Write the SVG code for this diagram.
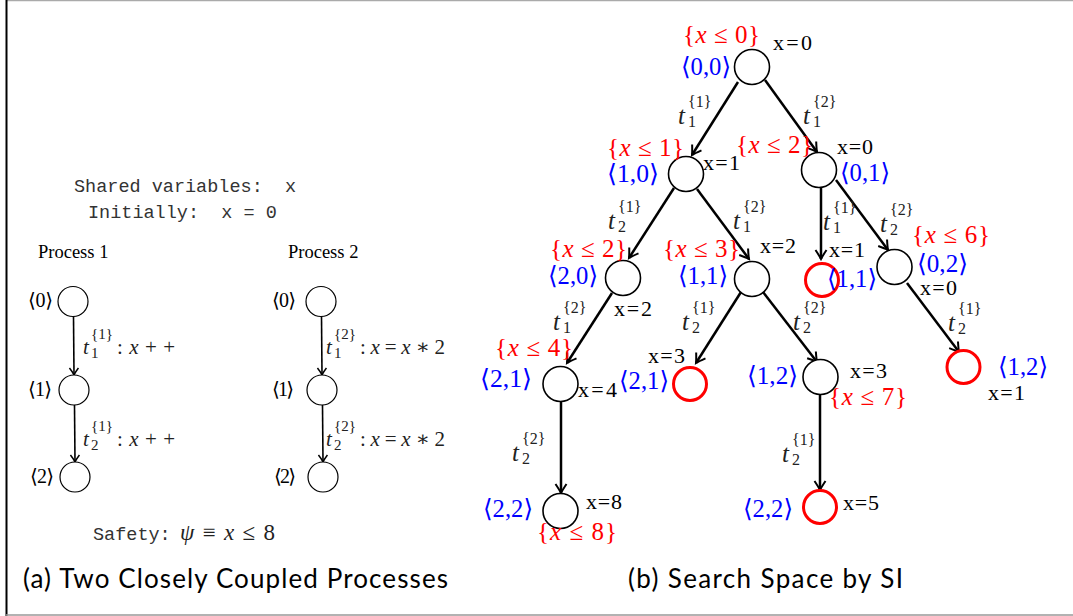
<svg xmlns="http://www.w3.org/2000/svg" width="1073" height="616" viewBox="0 0 1073 616">
<style>
.mono{font-family:"Liberation Mono",monospace;font-size:18.5px;fill:#333}
.rm{font-family:"Liberation Serif","DejaVu Serif",serif;fill:#000}
.it{font-style:italic}
.red{fill:#ff0000}
.blue{fill:#0000ff}
.gr{fill:#222}
.cap{font-family:Lato,"DejaVu Sans",sans-serif;font-size:26px;fill:#000}
.nb{fill:#fff;stroke:#000;stroke-width:1.6}
.nr{fill:#fff;stroke:#ff0000;stroke-width:3}
.np{fill:#fff;stroke:#000;stroke-width:1.2}
.e{stroke:#000;stroke-width:2.5;fill:none;marker-end:url(#ar)}
.ep{stroke:#000;stroke-width:1.6;fill:none;marker-end:url(#ap)}
.tl{font-size:25px}
.ss{font-size:16px}
.xv{font-size:22px}
.mt{font-size:25px}
</style>
<defs>
<marker id="ar" markerUnits="userSpaceOnUse" markerWidth="14" markerHeight="14" viewBox="-10 -7 12 14" refX="0" refY="0" orient="auto">
<path d="M-9,-5.5 Q-3,-1.5 0,0 Q-3,1.5 -9,5.5" fill="none" stroke="#000" stroke-width="2"/>
</marker>
<marker id="ap" markerUnits="userSpaceOnUse" markerWidth="12" markerHeight="12" viewBox="-9 -6 10 12" refX="0" refY="0" orient="auto">
<path d="M-7,-4.5 Q-2.5,-1 0,0 Q-2.5,1 -7,4.5" fill="none" stroke="#000" stroke-width="1.5"/>
</marker>
</defs>
<rect x="0" y="0" width="1073" height="616" fill="#fff"/>
<line x1="6" y1="0.5" x2="1073" y2="0.5" stroke="#aaa" stroke-width="1.5"/>
<line x1="6.5" y1="0" x2="6.5" y2="616" stroke="#000" stroke-width="2"/>
<line x1="6" y1="615" x2="1073" y2="615" stroke="#999" stroke-width="1.5"/>

<!-- Left panel -->
<g id="left-header">
<text class="mono" x="74" y="192" xml:space="preserve">Shared variables:  x</text>
<text class="mono" x="88" y="218" xml:space="preserve">Initially:  x = 0</text>
<text class="rm" x="38" y="258" font-size="18.5">Process 1</text>
<text class="rm" x="288" y="258" font-size="18.5">Process 2</text>
</g>
<g id="left-connectors">
<line class="ep" x1="73.5" y1="316" x2="74" y2="375"/>
<line class="ep" x1="74.5" y1="405" x2="75" y2="462"/>
<line class="ep" x1="321.5" y1="316" x2="322" y2="375"/>
<line class="ep" x1="322.5" y1="405" x2="323" y2="462"/>
</g>
<g id="p1-s0"><circle class="np" cx="73" cy="301.5" r="15"/><text class="rm" x="28" y="307" font-size="20" textLength="25">⟨0⟩</text></g>
<g id="p1-s1"><circle class="np" cx="74" cy="390" r="15"/><text class="rm" x="28" y="396" font-size="20" textLength="24">⟨1⟩</text></g>
<g id="p1-s2"><circle class="np" cx="75" cy="477" r="15"/><text class="rm" x="30" y="483" font-size="20" textLength="24">⟨2⟩</text></g>
<g id="p2-s0"><circle class="np" cx="321" cy="301.5" r="15"/><text class="rm" x="272" y="307" font-size="20" textLength="24">⟨0⟩</text></g>
<g id="p2-s1"><circle class="np" cx="322" cy="390" r="15"/><text class="rm" x="272" y="396" font-size="20" textLength="22">⟨1⟩</text></g>
<g id="p2-s2"><circle class="np" cx="323" cy="477" r="15"/><text class="rm" x="274" y="483" font-size="20" textLength="22">⟨2⟩</text></g>
<g id="left-labels" class="rm gr">
<text font-size="21"><tspan x="83" y="354" class="it">t</tspan><tspan x="91" y="339" font-size="15">{1}</tspan><tspan x="91" y="358" font-size="15">1</tspan><tspan x="117" y="354" textLength="58">: <tspan class="it">x</tspan> + +</tspan></text>
<text font-size="21"><tspan x="83" y="446" class="it">t</tspan><tspan x="91" y="431" font-size="15">{1}</tspan><tspan x="91" y="450" font-size="15">2</tspan><tspan x="117" y="446" textLength="58">: <tspan class="it">x</tspan> + +</tspan></text>
<text font-size="21"><tspan x="326" y="354" class="it">t</tspan><tspan x="334" y="339" font-size="15">{2}</tspan><tspan x="334" y="358" font-size="15">1</tspan><tspan x="360" y="354" textLength="85">: <tspan class="it">x</tspan> = <tspan class="it">x</tspan> ∗ 2</tspan></text>
<text font-size="21"><tspan x="326" y="446" class="it">t</tspan><tspan x="334" y="431" font-size="15">{2}</tspan><tspan x="334" y="450" font-size="15">2</tspan><tspan x="360" y="446" textLength="85">: <tspan class="it">x</tspan> = <tspan class="it">x</tspan> ∗ 2</tspan></text>
</g>
<g id="safety">
<text class="mono" x="93" y="540">Safety:</text>
<text class="rm gr" x="180" y="540" font-size="23" textLength="95"><tspan class="it">ψ</tspan> ≡ <tspan class="it">x</tspan> ≤ 8</text>
</g>

<!-- Right panel: tree connectors -->
<g id="tree-connectors">
<line class="e" x1="738" y1="82" x2="692" y2="155"/>
<line class="e" x1="765" y1="80" x2="817" y2="152"/>
<line class="e" x1="674" y1="188" x2="629" y2="258"/>
<line class="e" x1="697" y1="189" x2="749" y2="259"/>
<line class="e" x1="821" y1="187" x2="821" y2="259"/>
<line class="e" x1="836" y1="180" x2="888" y2="250"/>
<line class="e" x1="612" y1="293" x2="567" y2="363"/>
<line class="e" x1="741" y1="292" x2="696" y2="363"/>
<line class="e" x1="763" y1="292" x2="817" y2="362"/>
<line class="e" x1="907" y1="283" x2="959" y2="352"/>
<line class="e" x1="561" y1="402" x2="561" y2="493"/>
<line class="e" x1="820" y1="395" x2="820" y2="490"/>
</g>
<g id="edge-labels" class="rm gr">
<text class="tl"><tspan x="678" y="124" class="it">t</tspan><tspan x="688" y="107" class="ss">{1}</tspan><tspan x="688" y="127" class="ss">1</tspan></text>
<text class="tl"><tspan x="803" y="124" class="it">t</tspan><tspan x="813" y="107" class="ss">{2}</tspan><tspan x="813" y="127" class="ss">1</tspan></text>
<text class="tl"><tspan x="608" y="229" class="it">t</tspan><tspan x="618" y="212" class="ss">{1}</tspan><tspan x="618" y="232" class="ss">2</tspan></text>
<text class="tl"><tspan x="733" y="229" class="it">t</tspan><tspan x="743" y="212" class="ss">{2}</tspan><tspan x="743" y="232" class="ss">1</tspan></text>
<text class="tl"><tspan x="823" y="230" class="it">t</tspan><tspan x="833" y="213" class="ss">{1}</tspan><tspan x="833" y="233" class="ss">1</tspan></text>
<text class="tl"><tspan x="880" y="232" class="it">t</tspan><tspan x="890" y="215" class="ss">{2}</tspan><tspan x="890" y="235" class="ss">2</tspan></text>
<text class="tl"><tspan x="948" y="331" class="it">t</tspan><tspan x="958" y="314" class="ss">{1}</tspan><tspan x="958" y="334" class="ss">2</tspan></text>
<text class="tl"><tspan x="553" y="330" class="it">t</tspan><tspan x="563" y="313" class="ss">{2}</tspan><tspan x="563" y="333" class="ss">1</tspan></text>
<text class="tl"><tspan x="682" y="330" class="it">t</tspan><tspan x="692" y="313" class="ss">{1}</tspan><tspan x="692" y="333" class="ss">2</tspan></text>
<text class="tl"><tspan x="793" y="330" class="it">t</tspan><tspan x="803" y="313" class="ss">{2}</tspan><tspan x="803" y="333" class="ss">2</tspan></text>
<text class="tl"><tspan x="782" y="462" class="it">t</tspan><tspan x="792" y="445" class="ss">{1}</tspan><tspan x="792" y="465" class="ss">2</tspan></text>
<text class="tl"><tspan x="512" y="461" class="it">t</tspan><tspan x="522" y="444" class="ss">{2}</tspan><tspan x="522" y="464" class="ss">2</tspan></text>
</g>

<!-- Tree nodes -->
<g id="n00" class="rm">
<circle class="nb" cx="752" cy="67" r="17.5"/>
<text class="red mt" x="683" y="43" textLength="77">{<tspan class="it">x</tspan> ≤ 0}</text>
<text class="blue mt" x="681" y="75" textLength="50" lengthAdjust="spacingAndGlyphs">⟨0,0⟩</text>
<text class="xv" x="773" y="50" textLength="39">x=0</text>
</g>
<g id="n10" class="rm">
<circle class="nb" cx="686" cy="174" r="17.5"/>
<text class="red mt" x="607" y="156" textLength="77">{<tspan class="it">x</tspan> ≤ 1}</text>
<text class="blue mt" x="607" y="182" textLength="52" lengthAdjust="spacingAndGlyphs">⟨1,0⟩</text>
<text class="xv" x="703" y="170" textLength="37">x=1</text>
</g>
<g id="n01" class="rm">
<circle class="nb" cx="819" cy="170" r="17.5"/>
<text class="red mt" x="736" y="153" textLength="77">{<tspan class="it">x</tspan> ≤ 2}</text>
<text class="blue mt" x="840" y="181" textLength="50" lengthAdjust="spacingAndGlyphs">⟨0,1⟩</text>
<text class="xv" x="837" y="154" textLength="36">x=0</text>
</g>
<g id="n20" class="rm">
<circle class="nb" cx="623" cy="278" r="17.5"/>
<text class="red mt" x="550" y="257" textLength="77">{<tspan class="it">x</tspan> ≤ 2}</text>
<text class="blue mt" x="548" y="284" textLength="50" lengthAdjust="spacingAndGlyphs">⟨2,0⟩</text>
<text class="xv" x="614" y="316" textLength="38">x=2</text>
</g>
<g id="n11" class="rm">
<circle class="nb" cx="752" cy="279" r="17.5"/>
<text class="red mt" x="663" y="257" textLength="77">{<tspan class="it">x</tspan> ≤ 3}</text>
<text class="blue mt" x="678" y="284" textLength="50" lengthAdjust="spacingAndGlyphs">⟨1,1⟩</text>
<text class="xv" x="760" y="253" textLength="36">x=2</text>
</g>
<g id="n11r" class="rm">
<circle class="nr" cx="822" cy="280" r="16.5"/>
<text class="blue mt" x="827" y="287" textLength="50" lengthAdjust="spacingAndGlyphs">⟨1,1⟩</text>
<text class="xv" x="829" y="257" textLength="36">x=1</text>
</g>
<g id="n02" class="rm">
<circle class="nb" cx="894.5" cy="267" r="17.5"/>
<text class="red mt" x="912" y="243" textLength="78">{<tspan class="it">x</tspan> ≤ 6}</text>
<text class="blue mt" x="917" y="272" textLength="51" lengthAdjust="spacingAndGlyphs">⟨0,2⟩</text>
<text class="xv" x="920" y="295" textLength="37">x=0</text>
</g>
<g id="n21" class="rm">
<circle class="nb" cx="560.5" cy="384" r="17.5"/>
<text class="red mt" x="495" y="356" textLength="78">{<tspan class="it">x</tspan> ≤ 4}</text>
<text class="blue mt" x="480" y="387" textLength="52" lengthAdjust="spacingAndGlyphs">⟨2,1⟩</text>
<text class="xv" x="578" y="397" textLength="39">x=4</text>
</g>
<g id="n21r" class="rm">
<circle class="nr" cx="690" cy="384" r="16.5"/>
<text class="blue mt" x="619" y="389" textLength="50" lengthAdjust="spacingAndGlyphs">⟨2,1⟩</text>
<text class="xv" x="648" y="363" textLength="37">x=3</text>
</g>
<g id="n12" class="rm">
<circle class="nb" cx="820.5" cy="377" r="17.5"/>
<text class="blue mt" x="747" y="384" textLength="51" lengthAdjust="spacingAndGlyphs">⟨1,2⟩</text>
<text class="xv" x="850" y="378" textLength="37">x=3</text>
<text class="red mt" x="829" y="405" textLength="78">{<tspan class="it">x</tspan> ≤ 7}</text>
</g>
<g id="n12r" class="rm">
<circle class="nr" cx="963.5" cy="367" r="16.5"/>
<text class="blue mt" x="998" y="375" textLength="50" lengthAdjust="spacingAndGlyphs">⟨1,2⟩</text>
<text class="xv" x="988" y="400" textLength="37">x=1</text>
</g>
<g id="n22" class="rm">
<circle class="nb" cx="560.5" cy="511" r="17.5"/>
<text class="blue mt" x="483" y="517" textLength="50" lengthAdjust="spacingAndGlyphs">⟨2,2⟩</text>
<text class="xv" x="586" y="509" textLength="36">x=8</text>
<text class="red mt" x="537" y="540" textLength="80">{<tspan class="it">x</tspan> ≤ 8}</text>
</g>
<g id="n22r" class="rm">
<circle class="nr" cx="820" cy="507" r="16.5"/>
<text class="blue mt" x="743" y="517" textLength="50" lengthAdjust="spacingAndGlyphs">⟨2,2⟩</text>
<text class="xv" x="843" y="510" textLength="36">x=5</text>
</g>

<g id="captions">
<text class="cap" x="23" y="588" textLength="425">(a) Two Closely Coupled Processes</text>
<text class="cap" x="628" y="588" textLength="275">(b) Search Space by SI</text>
</g>
</svg>
